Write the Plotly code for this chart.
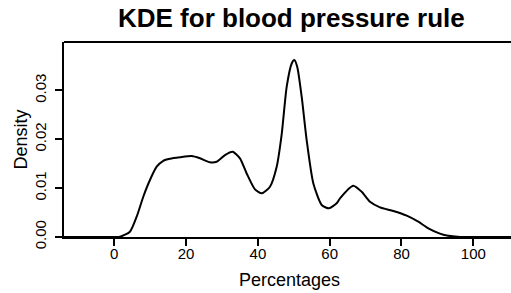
import plotly.graph_objects as go

# KDE curve (x in %, density)
x_vals = [-14, -5, 0, 1.6, 4.37, 6.24, 8.08, 9.94, 11.81, 13.65, 15.52, 18.3, 21.56, 23.87,
          26.66, 28.52, 30.83, 32.98, 35.01, 36.88, 39.19, 41.06, 43.37, 45.24, 46.63,
          48.02, 49.42, 50.14, 50.97, 52.2, 53.59, 55.43, 57.77, 59.8, 61.95, 62.87,
          66.57, 68.91, 71.23, 74.01, 77.72, 81.45, 84.68, 87.47, 90.7, 92.6, 96.3, 100, 110.5]
density = [0, 0, 0, 0.00005, 0.00108, 0.00415, 0.00824, 0.01166, 0.01438, 0.0156, 0.0160, 0.0163,
           0.01656, 0.0161, 0.01528, 0.0154, 0.01677, 0.01744, 0.0161, 0.0130, 0.00975, 0.00894,
           0.01029, 0.01438, 0.0210, 0.0307, 0.0355, 0.0362, 0.0348, 0.0287, 0.0198, 0.0110,
           0.00654, 0.00587, 0.00689, 0.00791, 0.01049, 0.00926, 0.00722, 0.00607, 0.00532,
           0.00436, 0.00313, 0.00178, 0.0007, 0.0003, 0, 0, 0]

x_ticks = [0, 20, 40, 60, 80, 100]
y_ticks = [0.0, 0.01, 0.02, 0.03]
y_tick_labels = ["0.00", "0.01", "0.02", "0.03"]

title_text = "KDE for blood pressure rule"
x_title = "Percentages"
y_title = "Density"

FONT = "Liberation Sans, Arial, Helvetica, sans-serif"

fig = go.Figure()
fig.add_trace(go.Scatter(x=x_vals, y=density, mode="lines",
                         line=dict(color="black", width=2, shape="spline", smoothing=0.6),
                         hoverinfo="skip", showlegend=False))

fig.update_layout(
    width=511, height=293,
    margin=dict(l=64, r=0, t=42, b=56),
    paper_bgcolor="white", plot_bgcolor="white",
    font=dict(family=FONT, color="black"),
    xaxis=dict(range=[-14, 110.5], tickvals=x_ticks, ticks="outside", ticklen=7, tickwidth=2,
               tickcolor="black", showline=True, linecolor="black", linewidth=2, mirror=False,
               showgrid=False, zeroline=False, tickfont=dict(size=15, family=FONT),
               ticklabelstandoff=-5),
    yaxis=dict(range=[0, 0.0399], tickvals=y_ticks, ticktext=y_tick_labels, ticks="outside",
               ticklen=7, tickwidth=2, tickcolor="black", showline=True, linecolor="black",
               linewidth=2, showgrid=False, zeroline=False, tickangle=-90,
               tickfont=dict(size=15, family=FONT), ticklabelstandoff=3),
    shapes=[dict(type="line", xref="paper", yref="paper", x0=0, x1=1, y0=1, y1=1,
                 line=dict(color="black", width=2))],
    annotations=[
        dict(text="<b>%s</b>" % title_text, xref="paper", yref="paper", x=(291 - 64) / 447,
             y=1, yshift=24, xanchor="center", yanchor="middle", showarrow=False,
             font=dict(size=26, family=FONT)),
        dict(text=x_title, xref="paper", yref="paper", x=(289 - 64) / 447, y=0,
             yshift=-43, xanchor="center", yanchor="middle", showarrow=False,
             font=dict(size=18, family=FONT)),
        dict(text=y_title, xref="paper", yref="paper", x=0, xshift=-44, y=0.5,
             xanchor="center", yanchor="middle", textangle=-90, showarrow=False,
             font=dict(size=18, family=FONT)),
    ],
)

# remove the default page margin so the figure fills the window exactly
fig.write_html("out.html", config={"displayModeBar": False},
               post_script="document.body.style.margin='0';")
